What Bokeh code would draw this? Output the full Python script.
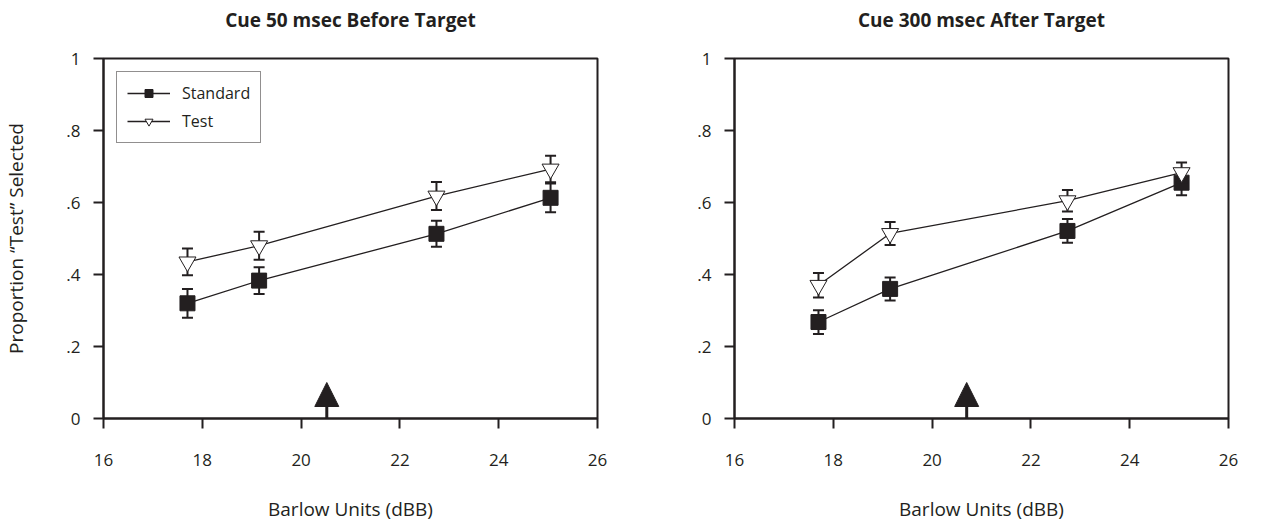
from bokeh.plotting import figure
from bokeh.layouts import row
from bokeh.models import (Range1d, FixedTicker, Legend, LegendItem, Arrow, NormalHead,
                          ColumnDataSource, Title)
from bokeh.embed import file_html
from bokeh.resources import INLINE

# ---- data ----
barlow_units = [17.7, 19.15, 22.74, 25.05]

before_standard = [0.320, 0.383, 0.513, 0.613]
before_standard_err = [0.040, 0.037, 0.036, 0.040]
before_test = [0.435, 0.480, 0.618, 0.693]
before_test_err = [0.037, 0.039, 0.039, 0.037]

after_standard = [0.268, 0.360, 0.521, 0.655]
after_standard_err = [0.033, 0.032, 0.033, 0.035]
after_test = [0.370, 0.514, 0.605, 0.683]
after_test_err = [0.034, 0.032, 0.030, 0.028]

arrow_before = 20.52
arrow_after = 20.70

titles = ["Cue 50 msec Before Target", "Cue 300 msec After Target"]
x_ticks = [16, 18, 20, 22, 24, 26]
y_ticks = [0, 0.2, 0.4, 0.6, 0.8, 1.0]
y_tick_labels = ["0", ".2", ".4", ".6", ".8", "1"]
x_label = "Barlow Units (dBB)"
y_label = "Proportion \u201cTest\u201d Selected"

INK = "#231f20"
FONT = "Open Sans"
FRAME_W, FRAME_H = 494, 360


def make_panel(title, std, std_err, tst, tst_err, arrow_x, left_border, right_border,
               show_ylabel, show_legend):
    p = figure(width=left_border + FRAME_W + right_border, height=520,
               frame_width=FRAME_W, frame_height=FRAME_H,
               min_border_left=left_border, min_border_right=right_border,
               min_border_top=58, min_border_bottom=102,
               x_range=Range1d(16, 26), y_range=Range1d(0, 1),
               output_backend="svg", toolbar_location=None)

    # spacer between frame and title, then the title itself
    p.add_layout(Title(text=" ", text_font_size="1px", standoff=23), "above")
    p.add_layout(Title(text=title, align="center", standoff=0,
                       text_font=FONT, text_font_size="19px", text_font_style="bold",
                       text_color=INK), "above")

    p.grid.visible = False
    p.outline_line_color = INK
    p.outline_line_width = 2
    p.background_fill_color = "white"
    p.border_fill_color = "white"

    for ax in (p.xaxis[0], p.yaxis[0]):
        ax.axis_line_color = INK
        ax.axis_line_width = 2
        ax.major_tick_line_color = INK
        ax.major_tick_line_width = 2
        ax.major_tick_out = 10
        ax.major_tick_in = 0
        ax.minor_tick_line_color = None
        ax.major_label_text_font = FONT
        ax.major_label_text_font_size = "17px"
        ax.major_label_text_color = INK
        ax.axis_label_text_font = FONT
        ax.axis_label_text_font_size = "19px"
        ax.axis_label_text_font_style = "normal"
        ax.axis_label_text_color = INK

    p.xaxis.ticker = FixedTicker(ticks=x_ticks)
    p.xaxis.major_label_standoff = 25
    p.xaxis.axis_label = x_label
    p.xaxis.axis_label_standoff = 27

    p.yaxis.ticker = FixedTicker(ticks=y_ticks)
    p.yaxis.major_label_overrides = {t: l for t, l in zip(y_ticks, y_tick_labels)}
    p.yaxis.major_label_standoff = 13
    if show_ylabel:
        p.yaxis.axis_label = y_label
        p.yaxis.axis_label_standoff = 34

    renderers = {}
    for name, ys, errs, marker, fill, size in (
        ("Standard", std, std_err, "square", INK, 15),
        ("Test", tst, tst_err, "inverted_triangle", "white", 17),
    ):
        src = ColumnDataSource(dict(
            x=barlow_units, y=ys,
            lo=[v - e for v, e in zip(ys, errs)],
            hi=[v + e for v, e in zip(ys, errs)],
        ))
        ln = p.line("x", "y", source=src, line_color=INK, line_width=1.3)
        p.segment(x0="x", y0="lo", x1="x", y1="hi", source=src,
                  line_color=INK, line_width=2)
        p.scatter("x", "lo", source=src, marker="dash", size=11,
                  line_color=INK, line_width=2)
        p.scatter("x", "hi", source=src, marker="dash", size=11,
                  line_color=INK, line_width=2)
        mk = p.scatter("x", "y", source=src, marker=marker, size=size,
                       fill_color=fill, line_color=INK, line_width=1)
        renderers[name] = [ln, mk]

    p.add_layout(Arrow(end=NormalHead(size=24, fill_color=INK, line_color=INK),
                       x_start=arrow_x, y_start=0, x_end=arrow_x, y_end=0.1,
                       line_color=INK, line_width=3))

    if show_legend:
        legend = Legend(items=[LegendItem(label=k, renderers=v) for k, v in renderers.items()],
                        location="top_left")
        legend.margin = 13
        legend.padding = 10
        legend.spacing = 6
        legend.glyph_width = 43
        legend.glyph_height = 20
        legend.label_standoff = 12
        legend.label_text_font = FONT
        legend.label_text_font_size = "16px"
        legend.label_text_color = INK
        legend.border_line_color = INK
        legend.border_line_width = 1.2
        legend.background_fill_alpha = 1
        p.add_layout(legend)
    return p


p1 = make_panel(titles[0], before_standard, before_standard_err, before_test, before_test_err,
                arrow_before, 102, 37, True, True)
p2 = make_panel(titles[1], after_standard, after_standard_err, after_test, after_test_err,
                arrow_after, 100, 40, False, False)

layout = row(p1, p2)
open("out.html", "w").write(file_html(layout, INLINE))
